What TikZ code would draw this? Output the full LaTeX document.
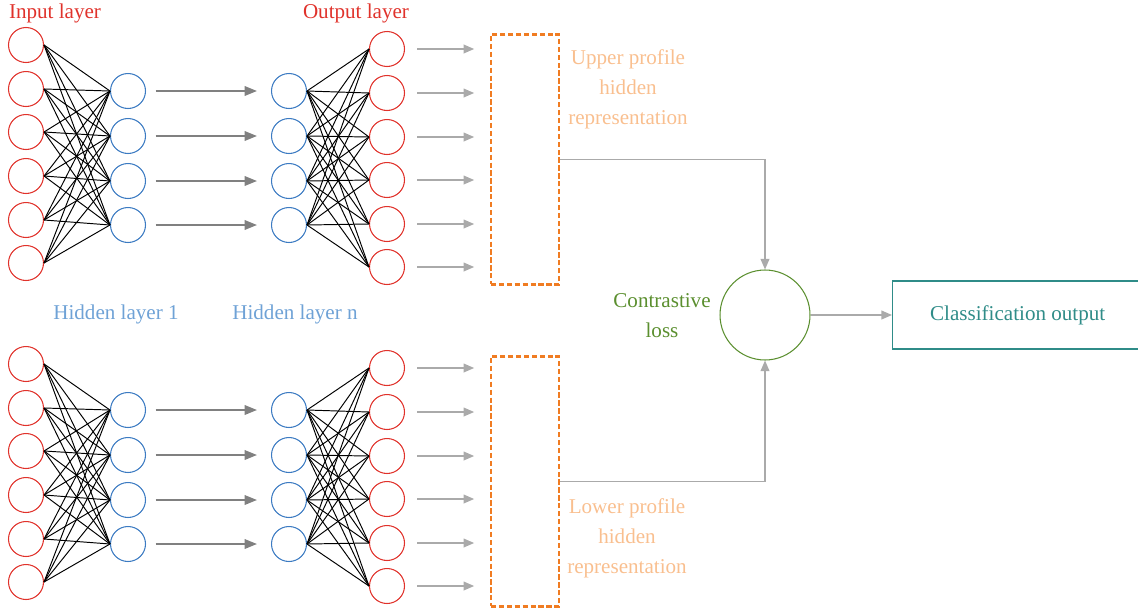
\documentclass[tikz,border=0pt]{standalone}
\usepackage{fontspec}
\setmainfont{Liberation Serif}
\usepackage{xcolor}
\usepackage{tikz}
\usetikzlibrary{positioning, arrows.meta, calc}
\definecolor{neuronred}{HTML}{E0322B}
\definecolor{neuronblue}{HTML}{3C7BC2}
\definecolor{hiddenlabel}{HTML}{6FA2D6}
\definecolor{reporange}{HTML}{F07C22}
\definecolor{replabel}{HTML}{F9BF8F}
\definecolor{lossgreen}{HTML}{5B8F2F}
\definecolor{clsteal}{HTML}{2F8C88}
\definecolor{darkarrow}{HTML}{808080}
\definecolor{lightarrow}{HTML}{AAAAAA}

\tikzset{
  neuron/.style={circle, minimum size=0.7cm, inner sep=0pt, line width=0.6pt},
  inneuron/.style={neuron, draw=neuronred},
  hidneuron/.style={neuron, draw=neuronblue},
  weight/.style={draw=black, line width=0.55pt},
  passarrow/.style={draw=darkarrow, line width=0.8pt, -{Triangle[length=7pt, width=5.5pt]}},
  feedarrow/.style={draw=lightarrow, line width=0.7pt, -{Triangle[length=6pt, width=5pt]}},
  repbox/.style={draw=reporange, dashed, dash pattern=on 3pt off 1.5pt, line width=1.2pt,
                 minimum width=1.36cm, minimum height=5cm, inner sep=0pt},
  replab/.style={text=replabel, align=center, font=\fontsize{12}{17}\selectfont}
}

\begin{document}
\begin{tikzpicture}[x=0.02cm, y=-0.02cm, font=\fontsize{12}{15}\selectfont]
    \useasboundingbox (0,0) rectangle (1138,612);

    % the two profile networks
    \foreach \net/\dy/\by in {u/0/159.5, l/319/481.5}{
      \foreach \y [count=\i] in {45,89,132,176,220,263}
        \node[inneuron] (\net in\i) at (26,{\y+\dy}) {};
      \foreach \y [count=\i] in {91,136,181,225}{
        \node[hidneuron] (\net ha\i) at (128,{\y+\dy}) {};
        \node[hidneuron] (\net hb\i) at (289,{\y+\dy}) {};
      }
      \foreach \y [count=\i] in {49,93,137,180,224,267}
        \node[inneuron] (\net out\i) at (387,{\y+\dy}) {};
      \node[repbox] (\net box) at (525,\by) {};

      \foreach \i in {1,...,6}
        \foreach \j in {1,...,4}{
          \draw[weight] (\net in\i.east) -- (\net ha\j.west);
          \draw[weight] (\net hb\j.east) -- (\net out\i.west);
        }
      \foreach \j in {1,...,4}
        \draw[passarrow, shorten <=5.5pt, shorten >=8pt] (\net ha\j.east) -- (\net hb\j.west);
      \foreach \i in {1,...,6}
        \draw[feedarrow, shorten <=7pt, shorten >=9pt] (\net out\i.east) -- (\net out\i.east -| \net box.west);
    }

    \node[text=neuronred] (inlab) at (55,13) {Input layer};
    \node[text=neuronred] (outlab) at (356,13) {Output layer};
    \node[text=hiddenlabel] (h1lab) at (116,314) {Hidden layer 1};
    \node[text=hiddenlabel] (hnlab) at (295,314) {Hidden layer n};

    \node[replab] (uplab) at (628,89) {Upper profile\\hidden\\representation};
    \node[replab] (lowlab) at (627,538) {Lower profile\\hidden\\representation};

    \node[circle, draw=lossgreen, line width=0.6pt, minimum size=1.8cm] (loss) at (765,315) {};
    \node[text=lossgreen, align=center, font=\fontsize{12}{17}\selectfont] (losslab) at (662,316) {Contrastive\\loss};
    \node[draw=clsteal, line width=0.8pt, minimum width=5cm, minimum height=1.36cm,
          anchor=west, text=clsteal] (cls) at (892,315) {Classification output};

    \draw[feedarrow] (ubox.east) -| (loss.north);
    \draw[feedarrow] (lbox.east) -| (loss.south);
    \draw[feedarrow] (loss.east) -- (cls.west);
\end{tikzpicture}
\end{document}
